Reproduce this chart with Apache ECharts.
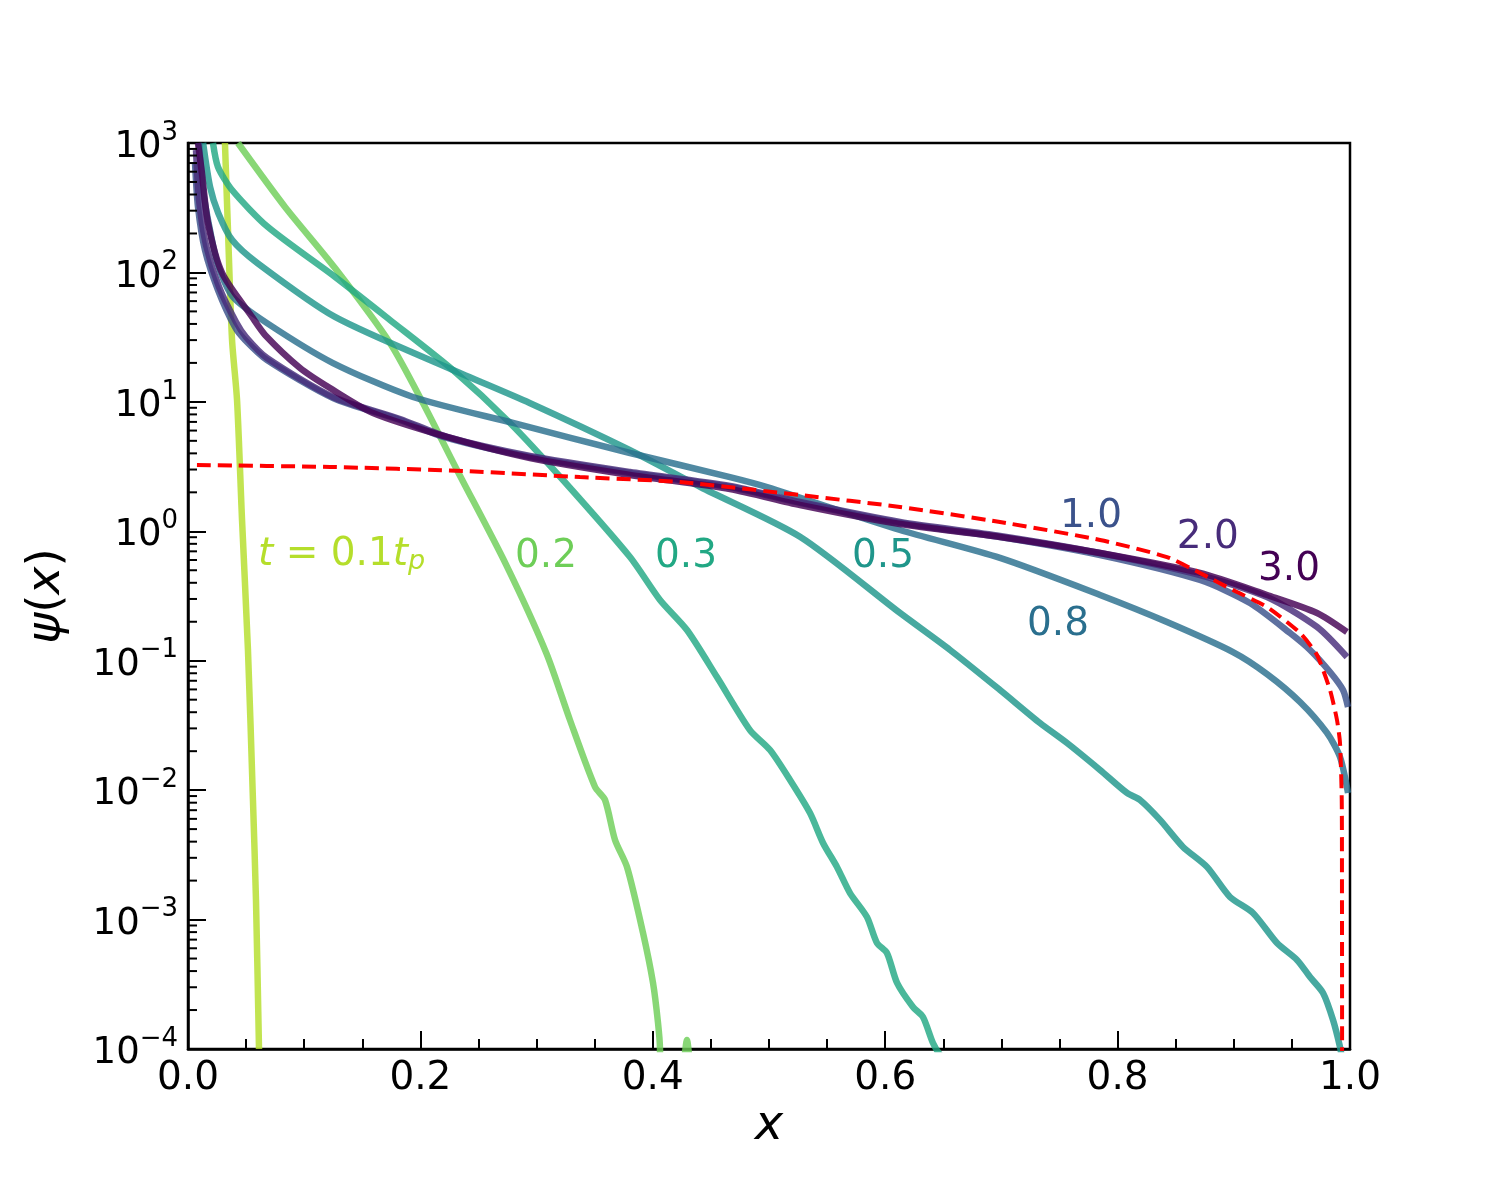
<!DOCTYPE html>
<html>
<head>
<meta charset="utf-8">
<script src="https://cdn.jsdelivr.net/npm/echarts@6/dist/echarts.min.js"></script>
<style>
  html, body { margin: 0; padding: 0; background: #fff; }
  #chart { width: 1500px; height: 1200px; }
</style>
</head>
<body>
<div id="chart"></div>
<script>
// curves: x positions and psi(x) values, one pair per time
const x01 = [0.0318, 0.0344, 0.0379, 0.0422, 0.0465, 0.0516, 0.0559, 0.0585, 0.0611];
const y01 = [1000, 213, 30.1, 10.33, 1.222, 0.121, 0.00839, 0.001416, 0.0001];

const x02 = [0.043, 0.0835, 0.1265, 0.1738, 0.2022, 0.2315, 0.2733, 0.3085, 0.3287, 0.3503, 0.3589,
  0.3675, 0.3778, 0.3916, 0.4002, 0.4045, 0.4062, 0.4066];
const y02 = [1000, 320.6, 108.1, 28.51, 9.795, 2.979, 0.5623, 0.1138, 0.03483, 0.01057, 0.00839,
  0.00412, 0.002547, 0.000787, 0.0003236, 0.0001589, 0.0001, 0.00001];
// small blip of the 0.2 curve just above the bottom edge
const x02b = [0.425, 0.4294, 0.4335];
const y02b = [0.00005, 0.0001175, 0.00005];

const x03 = [0.0215, 0.0258, 0.0379, 0.0688, 0.1265, 0.1738, 0.228, 0.2771, 0.3227, 0.3804, 0.4062,
  0.4294, 0.4552, 0.4836, 0.5009, 0.5181, 0.5353, 0.5465, 0.5585, 0.5697, 0.5843, 0.5929, 0.6015,
  0.6102, 0.6239, 0.6325, 0.6411, 0.6472];
const y03 = [1000, 653, 433.5, 224, 92.3, 42.9, 17.6, 6.871, 2.489, 0.632, 0.2944,
  0.1726, 0.0748, 0.0291, 0.0204, 0.01197, 0.00665, 0.00391, 0.00255, 0.001603, 0.001047, 0.000659, 0.000552,
  0.000324, 0.000211, 0.0001766, 0.0001112, 0.00009];

const x05 = [0.013, 0.019, 0.026, 0.038, 0.060, 0.1265, 0.228, 0.294, 0.380, 0.441, 0.527,
  0.6127, 0.6558, 0.6988, 0.7332, 0.7565, 0.7849, 0.8081, 0.8193, 0.8365, 0.8563, 0.8769, 0.8967,
  0.9165, 0.9372, 0.9544, 0.9656, 0.9768, 0.9854, 0.9914, 0.9935];
const y05 = [1000, 457, 288.4, 177.8, 117.5, 45.3, 17.62, 9.795, 4.246, 2.198, 0.9036,
  0.2339, 0.1211, 0.0594, 0.03304, 0.02312, 0.01432, 0.00951, 0.00839, 0.00589, 0.00364, 0.002553, 0.001496,
  0.001125, 0.000659, 0.0004875, 0.00036, 0.000271, 0.0001675, 0.0001035, 0.00008];

const x08 = [0.0095, 0.0129, 0.0189, 0.0258, 0.0387, 0.068, 0.1248, 0.1936, 0.2797, 0.3804, 0.4664,
  0.4983, 0.6127, 0.6988, 0.7849, 0.8425, 0.8993, 0.9286, 0.957, 0.9802, 0.9914, 0.9983];
const y08 = [1000, 433.5, 212.8, 114.0, 64.6, 40.6, 19.95, 10.91, 6.871, 4.027, 2.624,
  2.198, 1.023, 0.6223, 0.3221, 0.1991, 0.1167, 0.0789, 0.048, 0.02767, 0.01803, 0.00951];

const x10 = [0.006, 0.0086, 0.0146, 0.0258, 0.0404, 0.0491, 0.068, 0.1248, 0.1824, 0.2229, 0.2943,
  0.3804, 0.4664, 0.5267, 0.6127, 0.6988, 0.7849, 0.8709, 0.9139, 0.9484, 0.9656, 0.9828, 0.994, 0.9983];
const y10 = [712.9, 320.6, 148.9, 73.1, 37.84, 30.06, 21.04, 10.72, 7.244, 5.26, 3.75,
  2.818, 2.198, 1.656, 1.159, 0.9036, 0.6561, 0.4207, 0.2793, 0.1637, 0.1211, 0.0818, 0.0594, 0.04385];

const x20 = [0.0069, 0.0095, 0.0155, 0.0267, 0.0413, 0.0499, 0.068, 0.1248, 0.1824, 0.2229, 0.2943,
  0.3804, 0.4664, 0.5267, 0.6127, 0.6988, 0.7849, 0.8709, 0.9286, 0.9716, 0.9974];
const y20 = [883, 363.1, 162.9, 77.1, 41.4, 31.7, 21.83, 10.91, 7.379, 5.358, 3.819,
  2.871, 2.239, 1.683, 1.180, 0.9204, 0.6792, 0.4592, 0.3105, 0.1824, 0.1069];

const x30 = [0.0086, 0.012, 0.0172, 0.0293, 0.0551, 0.0663, 0.0964, 0.1222, 0.1592, 0.2229, 0.2943,
  0.3804, 0.4664, 0.5267, 0.6127, 0.6988, 0.7849, 0.8709, 0.9286, 0.9716, 0.9974];
const y30 = [1000, 586.1, 241, 99.1, 45.3, 32.9, 18.28, 12.79, 8.204, 5.358, 3.681,
  2.723, 2.123, 1.596, 1.138, 0.9036, 0.6792, 0.4764, 0.3221, 0.2339, 0.1667];

// red dashed reference curve
const xRef = [0.0077, 0.1222, 0.2367, 0.3373, 0.4234, 0.5267, 0.6127, 0.6988, 0.7849, 0.8425, 0.8709,
  0.8993, 0.9286, 0.957, 0.9716, 0.9828, 0.9888, 0.9914, 0.9929, 0.9931, 0.9932];
const yRef = [3.251, 3.141, 2.924, 2.624, 2.404, 1.905, 1.542, 1.180, 0.857, 0.6324, 0.4764,
  0.3516, 0.2600, 0.1637, 0.1107, 0.0594, 0.03483, 0.02312, 0.00839, 0.001416, 0.0000794];

// curve labels: text and anchor (left edge, middle) in data units
const noteText = ['t=0.1tp', '0.2', '0.3', '0.5', '0.8', '1.0', '2.0', '3.0'];
const noteX = [0.0602, 0.2814, 0.4019, 0.5714, 0.722, 0.7504, 0.851, 0.9208];
const noteY = [0.656, 0.632, 0.632, 0.632, 0.189, 1.288, 0.887, 0.502];

const xTicks = [0, 0.2, 0.4, 0.6, 0.8, 1.0];
const yMinorTicks = [];
for (let e = -4; e < 3; e++) {
  for (let m = 2; m <= 9; m++) yMinorTicks.push(m * Math.pow(10, e));
}

const colors = ['#b5de2b', '#6ece58', '#22a884', '#1f968b', '#2a6f8e', '#3b528b', '#472c7a', '#440154'];
const FONT = 'DejaVu Sans';

const zip = (xs, ys) => xs.map((v, i) => [v, ys[i]]);

function curve(name, xs, ys, color) {
  return {
    name: name,
    type: 'line',
    data: zip(xs, ys),
    showSymbol: false,
    smooth: 0.25,
    clip: true,
    lineStyle: { color: color, width: 6.5, opacity: 0.82 },
    silent: true,
    z: 2
  };
}

const series = [
  curve('0.1', x01, y01, colors[0]),
  curve('0.2', x02, y02, colors[1]),
  curve('0.2b', x02b, y02b, colors[1]),
  curve('0.3', x03, y03, colors[2]),
  curve('0.5', x05, y05, colors[3]),
  curve('0.8', x08, y08, colors[4]),
  curve('1.0', x10, y10, colors[5]),
  curve('2.0', x20, y20, colors[6]),
  curve('3.0', x30, y30, colors[7]),
  {
    name: 'ref',
    type: 'line',
    data: zip(xRef, yRef),
    showSymbol: false,
    smooth: 0.2,
    clip: true,
    lineStyle: { color: '#ff0000', width: 4, type: [14, 7] },
    silent: true,
    z: 3
  },
  {
    // log-axis minor ticks on the left spine, pointing inward
    name: 'yminor',
    type: 'custom',
    silent: true,
    clip: false,
    data: yMinorTicks.map(v => [0, v]),
    renderItem: function (params, api) {
      const p = api.coord([0, api.value(1)]);
      return {
        type: 'line',
        shape: { x1: p[0], y1: p[1], x2: p[0] + 9, y2: p[1] },
        style: { stroke: '#000', lineWidth: 2 }
      };
    },
    z: 5
  },
  {
    name: 'notes',
    type: 'scatter',
    symbolSize: 0,
    silent: true,
    itemStyle: { opacity: 1 },
    data: noteText.map((t, i) => ({
      value: [noteX[i], noteY[i]],
      label: {
        show: true,
        position: 'right',
        distance: 0,
        opacity: 1,
        color: colors[i],
        fontFamily: FONT,
        fontSize: 39,
        formatter: i === 0 ? '{it|t}{n| = 0.1}{it|t}{sub|p}' : t,
        rich: {
          it: { fontStyle: 'italic', fontSize: 39, color: colors[0], fontFamily: FONT },
          n: { fontSize: 39, color: colors[0], fontFamily: FONT },
          sub: { fontStyle: 'italic', fontSize: 27, color: colors[0], fontFamily: FONT,
            verticalAlign: 'bottom', padding: [14, 0, 0, 0] }
        }
      }
    })),
    z: 6
  }
];

function supLabel(v) {
  const e = Math.round(Math.log10(v));
  const s = e < 0 ? '\u2212' + (-e) : String(e);
  return '{b|10}{s|' + s + '}';
}

const option = {
  backgroundColor: '#fff',
  animation: false,
  grid: {
    left: 188, top: 143, width: 1162, height: 906,
    show: true, borderColor: '#000', borderWidth: 2.5, backgroundColor: 'transparent'
  },
  xAxis: {
    type: 'value',
    min: 0, max: 1, interval: 0.2,
    name: 'x',
    nameLocation: 'middle',
    nameGap: 52,
    nameTextStyle: { fontFamily: FONT, fontStyle: 'italic', fontSize: 48, color: '#000' },
    axisLine: { show: true, lineStyle: { color: '#000', width: 2.5 } },
    axisTick: { show: true, inside: true, length: 18, lineStyle: { color: '#000', width: 2 } },
    minorTick: { show: true, splitNumber: 4, length: 10, lineStyle: { color: '#000', width: 2 } },
    splitLine: { show: false },
    axisLabel: {
      color: '#000', fontFamily: FONT, fontSize: 39, margin: 10,
      formatter: v => xTicks.includes(Math.round(v * 10) / 10) ? v.toFixed(1) : ''
    }
  },
  yAxis: {
    type: 'log',
    logBase: 10,
    min: 0.0001, max: 1000,
    name: '{p|\u03c8}{q|(}{p|x}{q|)}',
    nameLocation: 'middle',
    nameRotate: 90,
    nameGap: 118,
    nameTextStyle: {
      rich: {
        p: { fontFamily: FONT, fontStyle: 'italic', fontSize: 47, color: '#000' },
        q: { fontFamily: FONT, fontSize: 47, color: '#000' }
      }
    },
    axisLine: { show: true, lineStyle: { color: '#000', width: 2.5 } },
    axisTick: { show: true, inside: true, length: 18, lineStyle: { color: '#000', width: 2 } },
    minorTick: { show: false },
    splitLine: { show: false },
    axisLabel: {
      margin: 10,
      formatter: supLabel,
      rich: {
        b: { fontFamily: FONT, fontSize: 37, color: '#000', lineHeight: 46, verticalAlign: 'bottom',
          padding: [8, 0, 0, 0] },
        s: { fontFamily: FONT, fontSize: 26, color: '#000', lineHeight: 26, verticalAlign: 'top' }
      }
    }
  },
  series: series
};

const chart = echarts.init(document.getElementById('chart'), null, { renderer: 'canvas' });
chart.setOption(option);
</script>
</body>
</html>
